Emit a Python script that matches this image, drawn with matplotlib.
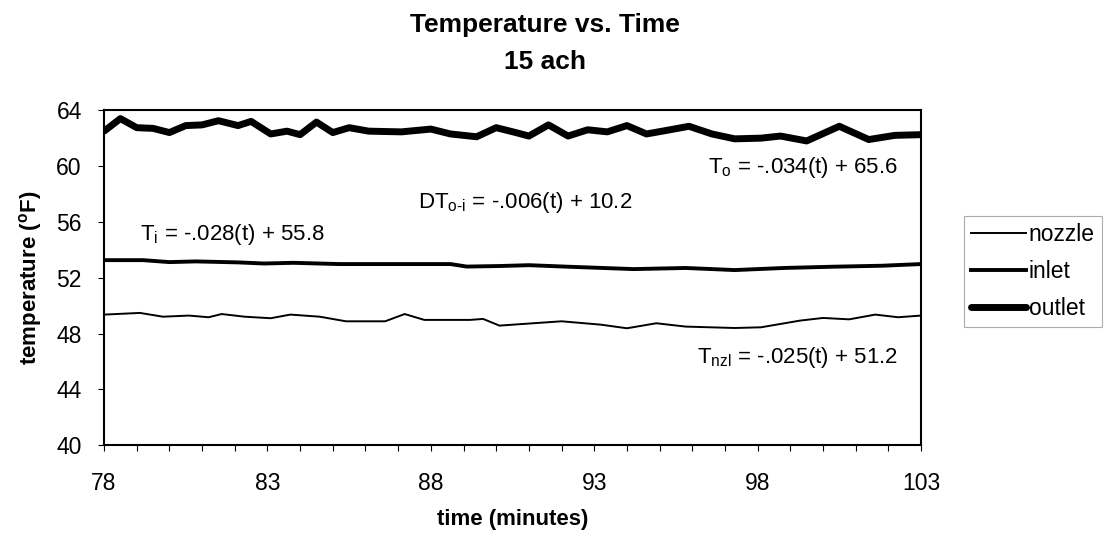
import matplotlib
matplotlib.use("Agg")
import matplotlib.pyplot as plt
from matplotlib.ticker import MultipleLocator, FixedLocator

plt.rcParams['font.family'] = ['Liberation Sans', 'DejaVu Sans']
plt.rcParams['mathtext.fontset'] = 'custom'
plt.rcParams['mathtext.rm'] = 'Liberation Sans'
plt.rcParams['mathtext.default'] = 'regular'

# data (time in minutes, temperature in F)
outlet_t = [78.0, 78.5, 79.0, 79.5, 80.0, 80.5, 81.0, 81.5, 82.1, 82.5, 83.1, 83.6, 84.0,
            84.5, 85.0, 85.5, 86.1, 87.1, 88.0, 88.6, 89.4, 90.0, 90.6, 91.0, 91.6, 92.2,
            92.8, 93.4, 94.0, 94.6, 95.2, 95.9, 96.6, 97.3, 98.1, 98.7, 99.5, 100.5,
            101.4, 102.2, 103.0]
outlet = [62.5, 63.4, 62.75, 62.7, 62.4, 62.9, 62.95, 63.25, 62.9, 63.2, 62.3, 62.5, 62.25,
          63.15, 62.4, 62.75, 62.5, 62.45, 62.65, 62.3, 62.1, 62.75, 62.4, 62.15, 62.95,
          62.15, 62.6, 62.45, 62.9, 62.3, 62.55, 62.85, 62.3, 61.95, 62.0, 62.15, 61.8,
          62.85, 61.9, 62.2, 62.25]

inlet_t = [78.0, 79.2, 80.0, 80.8, 82.1, 82.9, 83.8, 85.2, 86.8, 88.6, 89.1, 90.1, 91.0,
           92.2, 94.2, 95.8, 97.3, 98.8, 100.3, 101.8, 103.0]
inlet = [53.26, 53.26, 53.12, 53.17, 53.1, 53.02, 53.07, 52.98, 52.98, 52.98, 52.8, 52.84,
         52.9, 52.79, 52.62, 52.7, 52.55, 52.7, 52.79, 52.86, 52.98]

nozzle_t = [78.0, 79.1, 79.8, 80.6, 81.2, 81.6, 82.3, 83.1, 83.7, 84.6, 85.4, 86.6, 87.2,
            87.8, 89.2, 89.6, 90.1, 90.7, 92.0, 93.2, 94.0, 94.9, 95.8, 97.3, 98.1, 99.3,
            100.0, 100.8, 101.6, 102.3, 103.0]
nozzle = [49.36, 49.48, 49.21, 49.29, 49.17, 49.4, 49.21, 49.1, 49.36, 49.21, 48.88, 48.88,
          49.4, 48.98, 48.98, 49.05, 48.57, 48.67, 48.88, 48.64, 48.38, 48.74, 48.5, 48.4,
          48.45, 48.93, 49.12, 49.02, 49.36, 49.17, 49.29]

x_ticks = [78, 83, 88, 93, 98, 103]

fig = plt.figure(figsize=(11.07, 5.43), dpi=100)
ax = fig.add_axes([0.094, 0.180, 0.738, 0.617])

ax.plot(nozzle_t, nozzle, color='black', lw=1.4, label='nozzle', solid_joinstyle='round')
ax.plot(inlet_t, inlet, color='black', lw=2.8, label='inlet', solid_joinstyle='round')
ax.plot(outlet_t, outlet, color='black', lw=5.0, label='outlet', solid_joinstyle='round',
        solid_capstyle='round')

ax.set_xlim(78, 103)
ax.set_ylim(40, 64)
ax.xaxis.set_major_locator(FixedLocator(x_ticks))
ax.xaxis.set_minor_locator(MultipleLocator(1))
ax.yaxis.set_major_locator(MultipleLocator(4))
ax.tick_params(axis='both', which='both', direction='out', labelsize=16.5, width=0.8)
ax.tick_params(axis='x', which='major', length=4, pad=15)
ax.tick_params(axis='y', which='major', length=4, pad=12)
ax.tick_params(axis='x', which='minor', length=4)
for s in ax.spines.values():
    s.set_linewidth(1.5)

ax.set_xlabel('time (minutes)', fontsize=16, fontweight='bold')
ax.xaxis.set_label_coords(0.5, -0.19)
ax.set_ylabel('temperature ($^{o}$F)', fontsize=16, fontweight='bold')
ax.yaxis.set_label_coords(-0.074, 0.5)

fig.text(0.492, 1 - 25 / 543, 'Temperature vs. Time', ha='center', va='center',
         fontsize=19, fontweight='bold')
fig.text(0.492, 1 - 62 / 543, '15 ach', ha='center', va='center',
         fontsize=19, fontweight='bold')

# regression annotations
ax.text(102.3, 59.9, 'T$_o$ = -.034(t) + 65.6', ha='right', va='center', fontsize=16)
ax.text(87.6, 57.4, 'DT$_{o‐i}$ = -.006(t) + 10.2', ha='left', va='center', fontsize=16)
ax.text(79.1, 55.1, 'T$_i$ = -.028(t) + 55.8', ha='left', va='center', fontsize=16)
ax.text(102.3, 46.3, 'T$_{nzl}$ = -.025(t) + 51.2', ha='right', va='center', fontsize=16)

leg = ax.legend(loc='upper left', bbox_to_anchor=(964 / 1107, 1 - 216 / 543),
                bbox_transform=fig.transFigure, frameon=True, fancybox=False,
                fontsize=16.5, handlelength=2.4, handletextpad=0.12, labelspacing=0.62,
                borderpad=0.3, borderaxespad=0)
leg.get_frame().set_edgecolor('#999999')
leg.get_frame().set_linewidth(0.8)

fig.savefig('out.png', dpi=100)
